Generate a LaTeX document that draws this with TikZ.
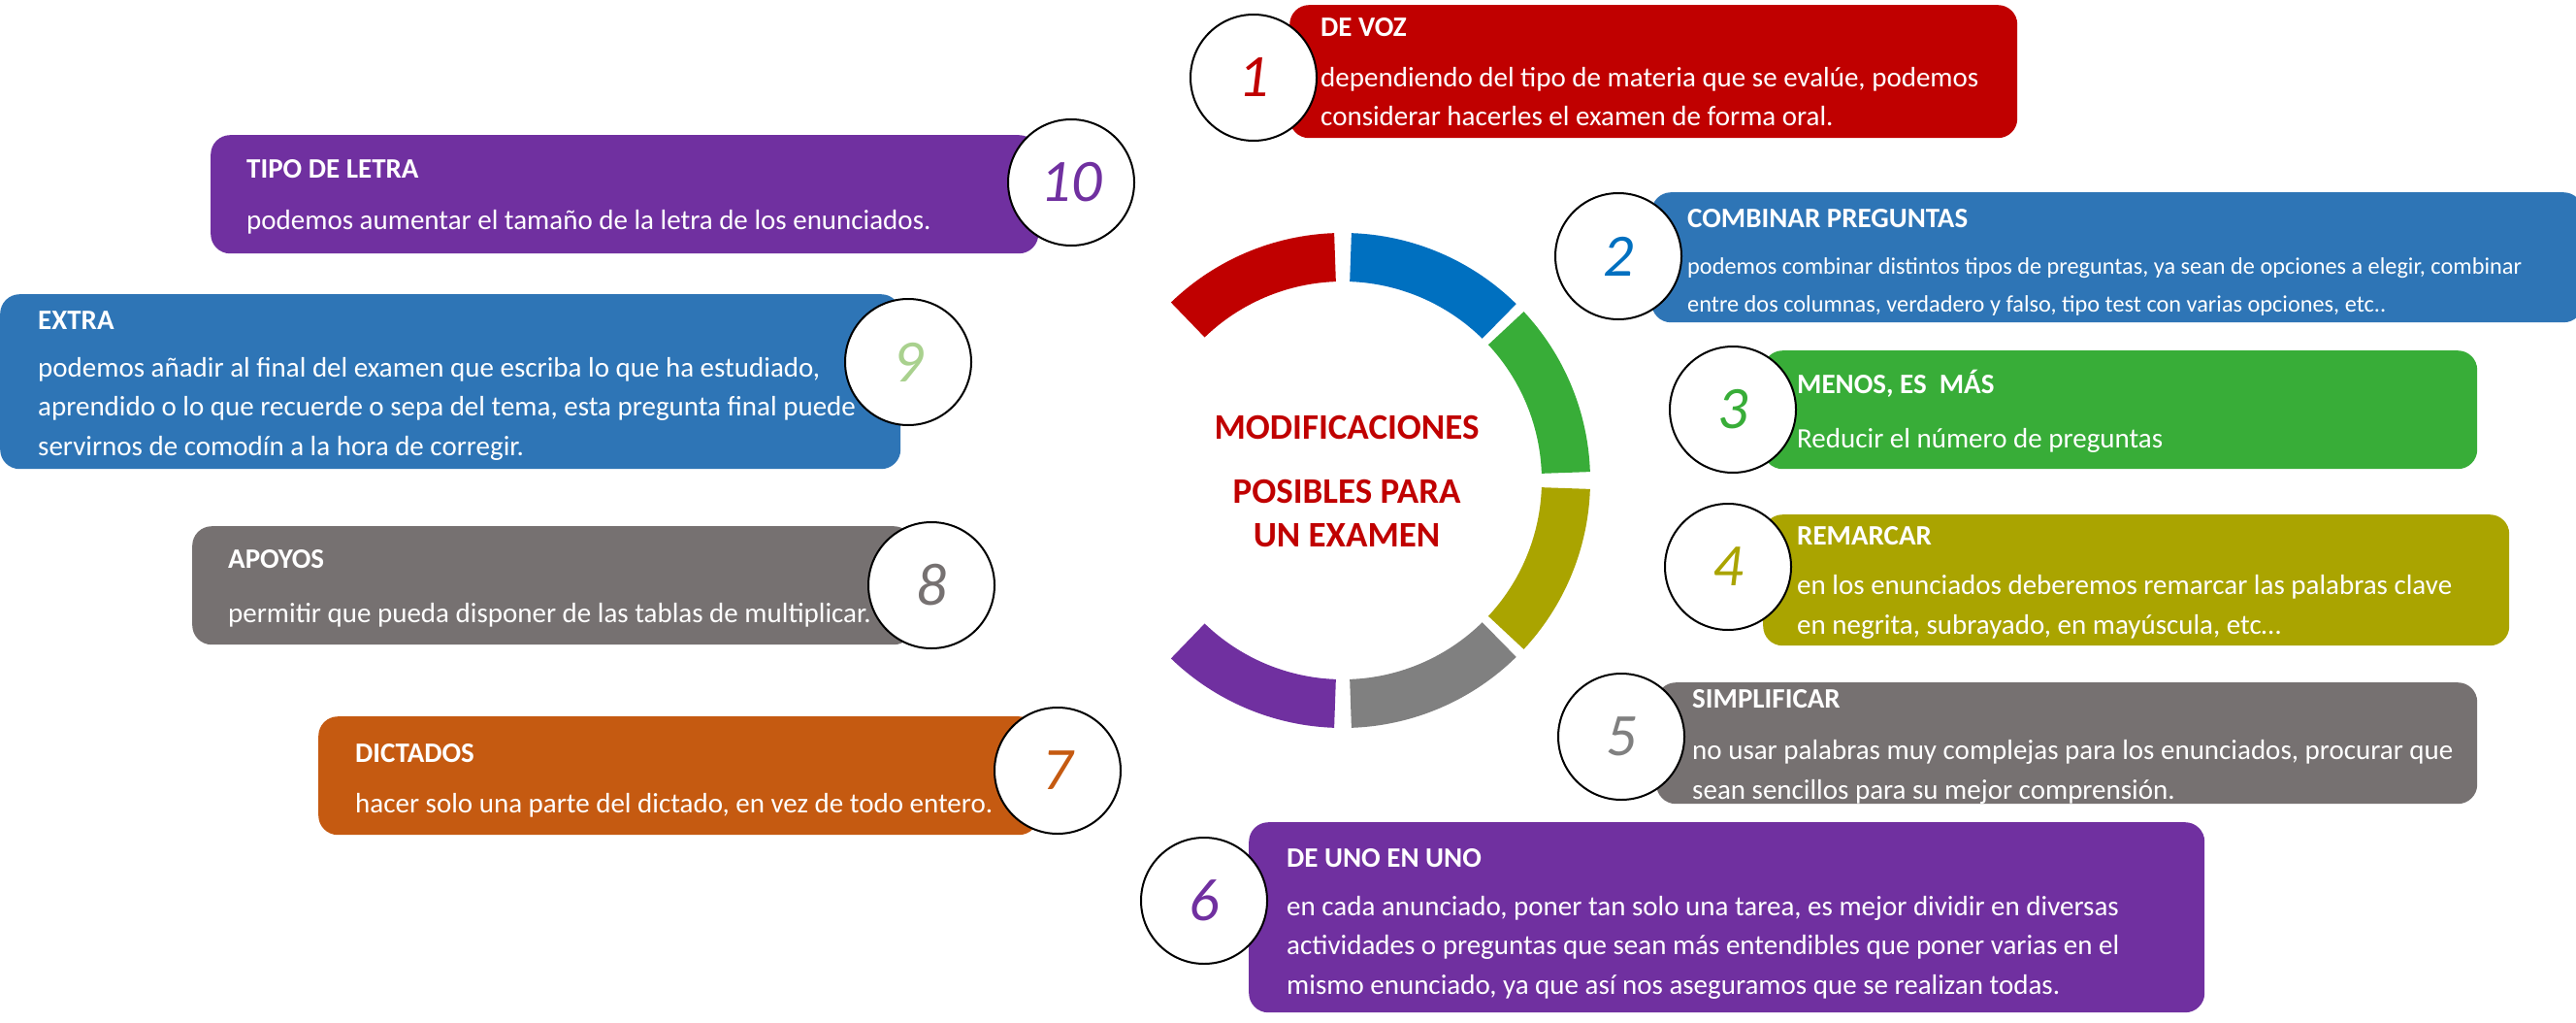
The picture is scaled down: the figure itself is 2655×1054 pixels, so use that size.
\documentclass[tikz,border=0pt]{standalone}
\usepackage{fontspec}
\setmainfont{Carlito}
\definecolor{cred}{HTML}{C00000}
\definecolor{cblue}{HTML}{2E75B6}
\definecolor{cblue2}{HTML}{0070C0}
\definecolor{cgreen}{HTML}{38AD38}
\definecolor{colive}{HTML}{AAA400}
\definecolor{cgray}{HTML}{767171}
\definecolor{cgray2}{HTML}{808080}
\definecolor{cpurple}{HTML}{7030A0}
\definecolor{corange}{HTML}{C55A11}
\definecolor{clgreen}{HTML}{A9D18E}
\tikzset{
  box/.style={rounded corners=20pt, anchor=north west, inner sep=0, draw=none},
  num/.style={circle, draw=black, line width=2pt, fill=white, minimum size=130pt, inner sep=0,
     font=\fontsize{62}{62}\selectfont\itshape\rmfamily},
  ttl/.style={anchor=base west, inner sep=0, text=white, font=\fontsize{29}{40}\selectfont\bfseries},
  body/.style={anchor=base west, inner sep=0, text=white, align=left, font=\fontsize{29}{40.5}\selectfont},
  bodys/.style={body, font=\fontsize{24.3}{39}\selectfont},
  ctr/.style={inner sep=0, text=cred, font=\fontsize{37}{37}\selectfont\bfseries},
}
\newcommand{\seg}[3]{\fill[#1] (#2:255) arc (#2:#3:255) -- (#3:205) arc (#3:#2:205) -- cycle;}
\begin{document}
\begin{tikzpicture}[x=1pt,y=-1pt]
\useasboundingbox (0,0) rectangle (2655,1054);
\fill[white] (0,0) rectangle (2655,1054);
% ring
\begin{scope}[shift={(1384,495)}]
\seg{cred}{-92}{-134}
\seg{cblue2}{-88}{-45.5}
\seg{cgreen}{-43}{-2}
\seg{colive}{2}{43}
\seg{cgray2}{45.5}{88}
\seg{cpurple}{92}{134}
\end{scope}
\node[ctr] (t1) at (1388,440) {MODIFICACIONES};
\node[ctr] (t2) at (1388,506) {POSIBLES PARA};
\node[ctr] (t3) at (1388,552) {UN EXAMEN};
% 1
\node[box, fill=cred, minimum width=750, minimum height=137] (b1) at (1329,5) {};
\node[num, text=cred] (c1) at (1292,80) {1};
\node[ttl] (h1) at (1361,38) {DE VOZ};
\node[body] (p1) at (1361,130) {dependiendo del tipo de materia que se evalúe, podemos\\considerar hacerles el examen de forma oral.};
% 2
\node[box, fill=cblue, minimum width=960, minimum height=134] (b2) at (1702,198) {};
\node[num, text=cblue2] (c2) at (1668,264) {2};
\node[ttl] (h2) at (1739,234) {COMBINAR PREGUNTAS};
\node[bodys] (p2) at (1739,321) {podemos combinar distintos tipos de preguntas, ya sean de opciones a elegir, combinar\\entre dos columnas, verdadero y falso, tipo test con varias opciones, etc..};
% 3
\node[box, fill=cgreen, minimum width=736, minimum height=122] (b3) at (1817,361) {};
\node[num, text=cgreen] (c3) at (1786,422) {3};
\node[ttl] (h3) at (1852,405) {MENOS, ES\ \ MÁS};
\node[body] (p3) at (1852,461) {Reducir el número de preguntas};
% 4
\node[box, fill=colive, minimum width=769, minimum height=135] (b4) at (1817,530) {};
\node[num, text=colive] (c4) at (1781,584) {4};
\node[ttl] (h4) at (1852,561) {REMARCAR};
\node[body] (p4) at (1852,653) {en los enunciados deberemos remarcar las palabras clave\\en negrita, subrayado, en mayúscula, etc…};
% 5
\node[box, fill=cgray, minimum width=846, minimum height=125] (b5) at (1707,703) {};
\node[num, text=cgray2] (c5) at (1671,759) {5};
\node[ttl] (h5) at (1744,729) {SIMPLIFICAR};
\node[body] (p5) at (1744,823) {no usar palabras muy complejas para los enunciados, procurar que\\sean sencillos para su mejor comprensión.};
% 6
\node[box, fill=cpurple, minimum width=985, minimum height=196] (b6) at (1287,847) {};
\node[num, text=cpurple] (c6) at (1241,928) {6};
\node[ttl] (h6) at (1326,893) {DE UNO EN UNO};
\node[body] (p6) at (1326,1024) {en cada anunciado, poner tan solo una tarea, es mejor dividir en diversas\\actividades o preguntas que sean más entendibles que poner varias en el\\mismo enunciado, ya que así nos aseguramos que se realizan todas.};
% 7
\node[box, fill=corange, minimum width=742, minimum height=122] (b7) at (328,738) {};
\node[num, text=corange] (c7) at (1090,794) {7};
\node[ttl] (h7) at (366,785) {DICTADOS};
\node[body] (p7) at (366,837) {hacer solo una parte del dictado, en vez de todo entero.};
% 8
\node[box, fill=cgray, minimum width=743, minimum height=122] (b8) at (198,542) {};
\node[num, text=cgray] (c8) at (960,603) {8};
\node[ttl] (h8) at (235,585) {APOYOS};
\node[body] (p8) at (235,641) {permitir que pueda disponer de las tablas de multiplicar.};
% 9
\node[box, fill=cblue, minimum width=928, minimum height=180] (b9) at (0,303) {};
\node[num, text=clgreen] (c9) at (936,373) {9};
\node[ttl] (h9) at (39,339) {EXTRA};
\node[body] (p9) at (39,469) {podemos añadir al final del examen que escriba lo que ha estudiado,\\aprendido o lo que recuerde o sepa del tema, esta pregunta final puede\\servirnos de comodín a la hora de corregir.};
% 10
\node[box, fill=cpurple, minimum width=853, minimum height=122] (b10) at (217,139) {};
\node[num, text=cpurple] (c10) at (1104,188) {10};
\node[ttl] (h10) at (254,183) {TIPO DE LETRA};
\node[body] (p10) at (254,236) {podemos aumentar el tamaño de la letra de los enunciados.};
\end{tikzpicture}
\end{document}
